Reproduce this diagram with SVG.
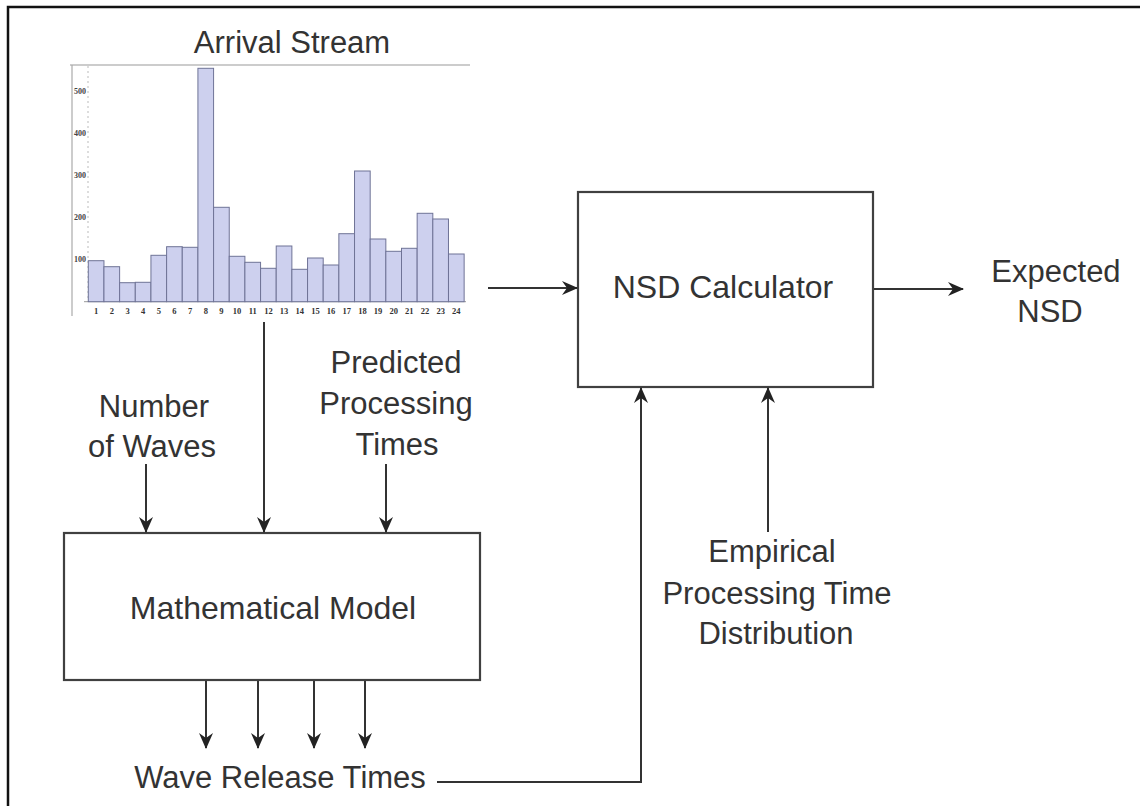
<svg xmlns="http://www.w3.org/2000/svg" width="1140" height="806" viewBox="0 0 1140 806">
<defs>
<style>
.lbl{font-family:"Liberation Sans",Arial,sans-serif;font-size:31px;fill:#333;text-anchor:middle}
.box{fill:#fff;stroke:#404040;stroke-width:2.2}
.conn{fill:none;stroke:#333;stroke-width:2}
.bar{fill:#cdd0ee;stroke:#6f7396;stroke-width:1}
.tk{font-family:"Liberation Serif","Times New Roman",serif;font-size:8.5px;font-weight:bold;fill:#333;text-anchor:middle}
.yk{font-family:"Liberation Serif","Times New Roman",serif;font-size:8px;font-weight:bold;fill:#444;text-anchor:end}
</style>
<marker id="arr" viewBox="0 0 16 14" refX="15" refY="7" markerWidth="16" markerHeight="14" markerUnits="userSpaceOnUse" orient="auto">
<path d="M0,0 L16,7 L0,14 L5,7 Z" fill="#222"/>
</marker>
</defs>
<rect x="0" y="0" width="1140" height="806" fill="#fff"/>
<path d="M8,806 V7 H1140" fill="none" stroke="#111" stroke-width="2.5"/>

<g id="arrival-stream">
<text class="lbl" x="292" y="53">Arrival Stream</text>
<line x1="70" y1="65" x2="470" y2="65" stroke="#999" stroke-width="1.2"/>
<line x1="72" y1="65" x2="72" y2="316" stroke="#aaa" stroke-width="1.2"/>
<line x1="88" y1="66" x2="88" y2="302" stroke="#bbb" stroke-width="1" stroke-dasharray="2,3"/>
<line x1="84" y1="301.7" x2="466" y2="301.7" stroke="#999" stroke-width="1"/>
<g class="yk">
<text x="86" y="93.5">500</text>
<text x="86" y="135.7">400</text>
<text x="86" y="177.8">300</text>
<text x="86" y="220">200</text>
<text x="86" y="262.1">100</text>
</g>
<g>
<rect class="bar" x="88.3" y="260.7" width="15.66" height="41"/>
<rect class="bar" x="103.96" y="266.7" width="15.66" height="35"/>
<rect class="bar" x="119.62" y="282.7" width="15.66" height="19"/>
<rect class="bar" x="135.28" y="282.3" width="15.66" height="19.4"/>
<rect class="bar" x="150.94" y="255.3" width="15.66" height="46.4"/>
<rect class="bar" x="166.6" y="246.7" width="15.66" height="55"/>
<rect class="bar" x="182.26" y="247.3" width="15.66" height="54.4"/>
<rect class="bar" x="197.92" y="68.3" width="15.66" height="233.4"/>
<rect class="bar" x="213.58" y="207.3" width="15.66" height="94.4"/>
<rect class="bar" x="229.24" y="256.3" width="15.66" height="45.4"/>
<rect class="bar" x="244.9" y="262.3" width="15.66" height="39.4"/>
<rect class="bar" x="260.56" y="268.3" width="15.66" height="33.4"/>
<rect class="bar" x="276.22" y="246" width="15.66" height="55.7"/>
<rect class="bar" x="291.88" y="269.3" width="15.66" height="32.4"/>
<rect class="bar" x="307.54" y="258" width="15.66" height="43.7"/>
<rect class="bar" x="323.2" y="265" width="15.66" height="36.7"/>
<rect class="bar" x="338.86" y="233.7" width="15.66" height="68"/>
<rect class="bar" x="354.52" y="171" width="15.66" height="130.7"/>
<rect class="bar" x="370.18" y="239" width="15.66" height="62.7"/>
<rect class="bar" x="385.84" y="251.3" width="15.66" height="50.4"/>
<rect class="bar" x="401.5" y="248.3" width="15.66" height="53.4"/>
<rect class="bar" x="417.16" y="213.3" width="15.66" height="88.4"/>
<rect class="bar" x="432.82" y="219" width="15.66" height="82.7"/>
<rect class="bar" x="448.48" y="254" width="15.66" height="47.7"/>
</g>
<g class="tk">
<text x="96.1" y="314">1</text><text x="111.8" y="314">2</text><text x="127.5" y="314">3</text><text x="143.1" y="314">4</text>
<text x="158.8" y="314">5</text><text x="174.4" y="314">6</text><text x="190.1" y="314">7</text><text x="205.8" y="314">8</text>
<text x="221.4" y="314">9</text><text x="237.1" y="314">10</text><text x="252.7" y="314">11</text><text x="268.4" y="314">12</text>
<text x="284.1" y="314">13</text><text x="299.7" y="314">14</text><text x="315.4" y="314">15</text><text x="331" y="314">16</text>
<text x="346.7" y="314">17</text><text x="362.4" y="314">18</text><text x="378" y="314">19</text><text x="393.7" y="314">20</text>
<text x="409.3" y="314">21</text><text x="425" y="314">22</text><text x="440.7" y="314">23</text><text x="456.3" y="314">24</text>
</g>
</g>

<g id="nsd-calculator">
<rect class="box" x="578" y="192" width="295" height="195"/>
<text class="lbl" x="723" y="298" style="font-size:32px">NSD Calculator</text>
</g>

<g id="expected-nsd">
<text class="lbl" x="1056" y="282">Expected</text>
<text class="lbl" x="1050" y="322">NSD</text>
</g>

<g id="number-of-waves">
<text class="lbl" x="154" y="417">Number</text>
<text class="lbl" x="152" y="457">of Waves</text>
</g>

<g id="predicted-processing-times">
<text class="lbl" x="396" y="373">Predicted</text>
<text class="lbl" x="396" y="414">Processing</text>
<text class="lbl" x="397" y="455">Times</text>
</g>

<g id="mathematical-model">
<rect class="box" x="64" y="533" width="416" height="147"/>
<text class="lbl" x="273" y="619" style="font-size:32px">Mathematical Model</text>
</g>

<g id="wave-release-times">
<text class="lbl" x="280" y="788">Wave Release Times</text>
</g>

<g id="empirical-distribution">
<text class="lbl" x="772" y="562">Empirical</text>
<text class="lbl" x="777" y="604">Processing Time</text>
<text class="lbl" x="776" y="644">Distribution</text>
</g>

<g id="connectors">
<line class="conn" x1="488" y1="288" x2="577" y2="288" marker-end="url(#arr)"/>
<line class="conn" x1="874" y1="289" x2="963" y2="289" marker-end="url(#arr)"/>
<line class="conn" x1="264" y1="322" x2="264" y2="532" marker-end="url(#arr)"/>
<line class="conn" x1="146" y1="464" x2="146" y2="532" marker-end="url(#arr)"/>
<line class="conn" x1="386" y1="464" x2="386" y2="532" marker-end="url(#arr)"/>
<line class="conn" x1="206" y1="681" x2="206" y2="748" marker-end="url(#arr)"/>
<line class="conn" x1="258" y1="681" x2="258" y2="748" marker-end="url(#arr)"/>
<line class="conn" x1="314" y1="681" x2="314" y2="748" marker-end="url(#arr)"/>
<line class="conn" x1="365" y1="681" x2="365" y2="748" marker-end="url(#arr)"/>
<polyline class="conn" points="437,782 641,782 641,388" marker-end="url(#arr)"/>
<line class="conn" x1="768" y1="532" x2="768" y2="388" marker-end="url(#arr)"/>
</g>
</svg>
